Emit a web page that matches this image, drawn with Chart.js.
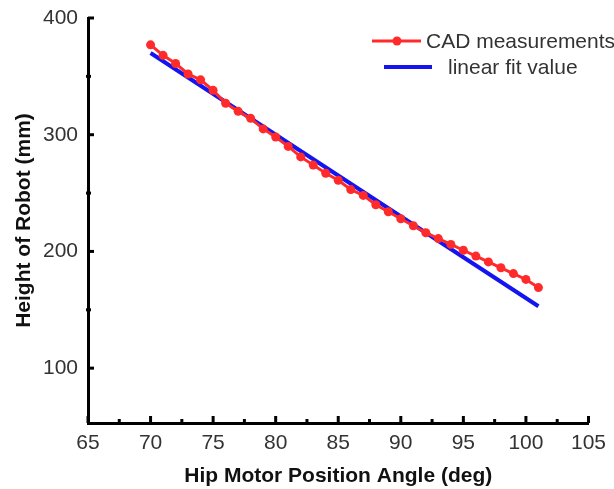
<!DOCTYPE html>
<html>
<head>
<meta charset="utf-8">
<script src="https://cdn.jsdelivr.net/npm/chart.js@4.4.1/dist/chart.umd.min.js"></script>
<style>
html, body { margin: 0; padding: 0; background: #fff; }
#wrap { width: 614px; height: 489px; }
</style>
</head>
<body>
<div id="wrap"><canvas id="chart"></canvas></div>
<script>
const angles = [70, 71, 72, 73, 74, 75, 76, 77, 78, 79, 80, 81, 82, 83, 84, 85,
                86, 87, 88, 89, 90, 91, 92, 93, 94, 95, 96, 97, 98, 99, 100, 101];
const cadHeights = [377, 368, 361, 352, 347, 338, 327, 320, 314, 305, 298, 290, 281, 274, 267, 261,
                    253, 248, 240, 234, 228, 222, 216, 211, 206, 201, 196, 191, 186, 181, 176, 169];

// linear fit, end points
const fitAngles = [70, 101];
const fitHeights = [370, 153];

const xTicks = [65, 70, 75, 80, 85, 90, 95, 100, 105];
const xMinor = [67.5, 72.5, 77.5, 82.5, 87.5, 92.5, 97.5, 102.5];
const yTicks = [100, 200, 300, 400];
const yMinor = [150, 250, 350];

const RED = '#ff2b2b';
const BLUE = '#1414f0';
const FONT = "'Liberation Sans', Arial, sans-serif";

// inward tick marks + legend inside the plot
const extras = {
  id: 'extras',
  afterDraw(chart) {
    const ctx = chart.ctx;
    const xs = chart.scales.x, ys = chart.scales.y;
    const area = chart.chartArea;
    ctx.save();
    ctx.strokeStyle = '#000';
    ctx.lineWidth = 3;
    xTicks.forEach(v => {
      const px = xs.getPixelForValue(v);
      ctx.beginPath(); ctx.moveTo(px, area.bottom); ctx.lineTo(px, area.bottom - 7); ctx.stroke();
    });
    xMinor.forEach(v => {
      const px = xs.getPixelForValue(v);
      ctx.beginPath(); ctx.moveTo(px, area.bottom); ctx.lineTo(px, area.bottom - 4); ctx.stroke();
    });
    yTicks.forEach(v => {
      const py = ys.getPixelForValue(v);
      ctx.beginPath(); ctx.moveTo(area.left, py); ctx.lineTo(area.left + 6, py); ctx.stroke();
    });
    yMinor.forEach(v => {
      const py = ys.getPixelForValue(v);
      ctx.beginPath(); ctx.moveTo(area.left - 2, py); ctx.lineTo(area.left + 3, py); ctx.stroke();
    });

    // legend
    const items = chart.data.datasets;
    ctx.font = '21px ' + FONT;
    ctx.textBaseline = 'middle';
    ctx.textAlign = 'left';
    // CAD measurements
    ctx.strokeStyle = items[0].borderColor;
    ctx.lineWidth = 3;
    ctx.beginPath(); ctx.moveTo(372, 41); ctx.lineTo(421, 41); ctx.stroke();
    ctx.fillStyle = items[0].borderColor;
    ctx.beginPath(); ctx.arc(397, 41, 4.5, 0, Math.PI * 2); ctx.fill();
    ctx.fillStyle = '#333';
    ctx.fillText(items[0].label, 426, 42);
    // linear fit value
    ctx.strokeStyle = items[1].borderColor;
    ctx.lineWidth = 4;
    ctx.beginPath(); ctx.moveTo(384, 67); ctx.lineTo(432, 67); ctx.stroke();
    ctx.fillStyle = '#333';
    ctx.fillText(items[1].label, 448, 68);
    ctx.restore();
  }
};

new Chart(document.getElementById('chart'), {
  type: 'line',
  data: {
    datasets: [
      {
        label: 'CAD measurements',
        data: angles.map((a, i) => ({ x: a, y: cadHeights[i] })),
        borderColor: RED,
        backgroundColor: RED,
        borderWidth: 3,
        pointRadius: 4.5,
        pointBorderWidth: 0,
        pointBackgroundColor: RED,
        tension: 0
      },
      {
        label: 'linear fit value',
        data: fitAngles.map((a, i) => ({ x: a, y: fitHeights[i] })),
        borderColor: BLUE,
        borderWidth: 4,
        pointRadius: 0,
        tension: 0
      }
    ]
  },
  options: {
    responsive: true,
    maintainAspectRatio: false,
    animation: false,
    devicePixelRatio: 1,
    layout: { padding: { top: 18, right: 19, left: 0, bottom: 0 } },
    plugins: {
      legend: { display: false },
      tooltip: { enabled: false }
    },
    scales: {
      x: {
        type: 'linear',
        min: 65,
        max: 105,
        afterBuildTicks: s => { s.ticks = xTicks.map(v => ({ value: v })); },
        afterFit: s => { s.height = 66; },
        grid: { display: false, drawTicks: false },
        border: { display: true, color: '#000', width: 3 },
        ticks: { color: '#333', font: { family: FONT, size: 21 }, padding: 8, maxRotation: 0 },
        title: {
          display: true,
          text: 'Hip Motor Position Angle (deg)',
          color: '#111',
          font: { family: FONT, size: 21, weight: 'bold' },
          padding: { top: 2, bottom: 0 }
        }
      },
      y: {
        type: 'linear',
        min: 53,
        max: 400,
        afterBuildTicks: s => { s.ticks = yTicks.map(v => ({ value: v })); },
        afterFit: s => { s.width = 88; s.paddingTop = 0; },
        grid: { display: false, drawTicks: false },
        border: { display: true, color: '#000', width: 3 },
        ticks: { color: '#333', font: { family: FONT, size: 21 }, padding: 10 },
        title: {
          display: true,
          text: 'Height of Robot (mm)',
          color: '#111',
          font: { family: FONT, size: 21, weight: 'bold' },
          padding: { top: 12, bottom: 4 }
        }
      }
    }
  },
  plugins: [extras]
});
</script>
</body>
</html>
